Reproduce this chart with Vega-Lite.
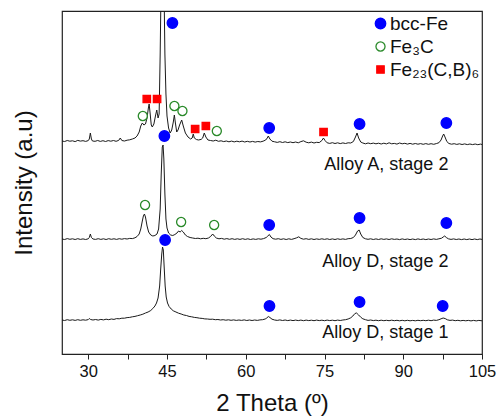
{
  "$schema": "https://vega.github.io/schema/vega-lite/v6.json",
  "width": 420,
  "height": 343,
  "autosize": {"type": "none"},
  "padding": {"left": 62, "top": 11, "right": 18, "bottom": 62},
  "config": {
    "view": {"stroke": "#222", "strokeWidth": 1.2},
    "font": "Liberation Sans",
    "axis": {"grid": false, "titleFontWeight": "normal", "titleFont": "Liberation Sans", "labelFont": "Liberation Sans", "titleColor": "#111", "labelColor": "#111"},
    "legend": {"orient": "none", "legendX": 309, "legendY": 3, "labelFontSize": 19, "labelFont": "Liberation Sans", "labelColor": "#111", "rowPadding": 3, "labelOffset": 0, "symbolStrokeWidth": 1.3, "padding": 0, "labelLimit": 300}
  },
  "datasets": {
    "A": [
      {"x":25,"y":213},{"x":25.5,"y":212.5},{"x":26,"y":213.5},{"x":26.5,"y":212.8},{"x":27,"y":213.2},{"x":27.5,"y":212.4},{"x":28,"y":213.6},{"x":28.5,"y":212.9},{"x":29,"y":213.3},{"x":29.5,"y":212.6},{"x":30,"y":213.4},{"x":30.2,"y":215},{"x":30.4,"y":221},{"x":30.6,"y":215},{"x":30.8,"y":213},{"x":31.3,"y":212.7},{"x":31.8,"y":213.5},{"x":32.3,"y":212.6},{"x":32.8,"y":213.3},{"x":33.3,"y":212.5},{"x":33.8,"y":213.4},{"x":34.3,"y":212.8},{"x":34.8,"y":213.5},{"x":35.3,"y":212.7},{"x":35.8,"y":213.6},{"x":36.1,"y":216},{"x":36.4,"y":213.5},{"x":36.9,"y":213},{"x":37.4,"y":213.8},{"x":37.9,"y":214.2},{"x":38.4,"y":215},{"x":38.9,"y":216},{"x":39.3,"y":218},{"x":39.7,"y":222},{"x":40.0,"y":228},{"x":40.3,"y":231},{"x":40.6,"y":229},{"x":40.9,"y":230},{"x":41.2,"y":236},{"x":41.45,"y":246},{"x":41.6,"y":250},{"x":41.8,"y":240},{"x":42.0,"y":229},{"x":42.2,"y":227},{"x":42.5,"y":230},{"x":42.8,"y":238},{"x":43.05,"y":244},{"x":43.3,"y":236},{"x":43.5,"y":240},{"x":43.7,"y":300},{"x":43.85,"y":360},{"x":44.2,"y":400},{"x":44.45,"y":360},{"x":44.6,"y":300},{"x":44.8,"y":260},{"x":45.0,"y":238},{"x":45.3,"y":226},{"x":45.6,"y":221},{"x":45.9,"y":224},{"x":46.2,"y":232},{"x":46.4,"y":239},{"x":46.6,"y":231},{"x":46.85,"y":222},{"x":47.1,"y":224},{"x":47.4,"y":229},{"x":47.8,"y":234},{"x":48.1,"y":228},{"x":48.5,"y":221},{"x":49.0,"y":217},{"x":49.5,"y":215},{"x":49.8,"y":216},{"x":50.0,"y":220},{"x":50.2,"y":216},{"x":50.6,"y":214.5},{"x":51.0,"y":214},{"x":51.5,"y":214.6},{"x":51.8,"y":216},{"x":52.1,"y":221},{"x":52.4,"y":217},{"x":52.8,"y":214},{"x":53.3,"y":213.5},{"x":53.8,"y":213},{"x":54.3,"y":213.8},{"x":54.8,"y":212.7},{"x":55.3,"y":213.2},{"x":55.8,"y":212.4},{"x":56.3,"y":213},{"x":56.8,"y":212.2},{"x":57.3,"y":212.9},{"x":57.8,"y":212.1},{"x":58.3,"y":212.8},{"x":58.8,"y":212.2},{"x":59.3,"y":212.9},{"x":59.8,"y":212},{"x":60.3,"y":212.7},{"x":60.8,"y":212},{"x":61.3,"y":212.6},{"x":61.8,"y":211.9},{"x":62.3,"y":212.5},{"x":62.8,"y":212.1},{"x":63.3,"y":212.8},{"x":63.8,"y":214},{"x":64.1,"y":216},{"x":64.3,"y":218},{"x":64.6,"y":215},{"x":65.0,"y":212.8},{"x":65.5,"y":212.2},{"x":66.0,"y":211.6},{"x":66.5,"y":212.3},{"x":67.0,"y":211.5},{"x":67.5,"y":212.2},{"x":68.0,"y":211.4},{"x":68.5,"y":212},{"x":69.0,"y":211.3},{"x":69.5,"y":212},{"x":70.0,"y":211.2},{"x":70.5,"y":212.4},{"x":71.0,"y":213.2},{"x":71.5,"y":211.8},{"x":72.0,"y":211.2},{"x":72.5,"y":211.9},{"x":73.0,"y":211},{"x":73.5,"y":211.7},{"x":74.0,"y":211.4},{"x":74.5,"y":213.5},{"x":74.8,"y":216},{"x":75.1,"y":213.5},{"x":75.5,"y":211.2},{"x":76.0,"y":210.6},{"x":76.5,"y":211.3},{"x":77.0,"y":210.5},{"x":77.5,"y":211.2},{"x":78.0,"y":210.4},{"x":78.5,"y":211.1},{"x":79.0,"y":210.5},{"x":79.5,"y":211.2},{"x":80.0,"y":211},{"x":80.5,"y":212.5},{"x":80.9,"y":217},{"x":81.2,"y":221},{"x":81.5,"y":216},{"x":81.9,"y":212},{"x":82.3,"y":211},{"x":82.8,"y":210.2},{"x":83.3,"y":211},{"x":83.8,"y":210.3},{"x":84.3,"y":210.9},{"x":84.8,"y":210.2},{"x":85.3,"y":210.8},{"x":85.8,"y":210},{"x":86.3,"y":210.8},{"x":86.8,"y":210.1},{"x":87.3,"y":211.2},{"x":87.8,"y":210.2},{"x":88.3,"y":210.6},{"x":88.8,"y":209.9},{"x":89.3,"y":211},{"x":89.8,"y":210.2},{"x":90.3,"y":210.7},{"x":90.8,"y":209.9},{"x":91.3,"y":210.6},{"x":91.8,"y":209.8},{"x":92.3,"y":210.5},{"x":92.8,"y":209.8},{"x":93.3,"y":210.4},{"x":93.8,"y":209.7},{"x":94.3,"y":210.4},{"x":94.8,"y":209.7},{"x":95.3,"y":210.3},{"x":95.8,"y":209.7},{"x":96.3,"y":210.4},{"x":96.8,"y":211.3},{"x":97.2,"y":214},{"x":97.5,"y":218},{"x":97.7,"y":220},{"x":97.95,"y":217},{"x":98.3,"y":212.5},{"x":98.7,"y":210.5},{"x":99.2,"y":209.8},{"x":99.7,"y":210.3},{"x":100.2,"y":209.6},{"x":100.7,"y":210.2},{"x":101.2,"y":209.5},{"x":101.7,"y":210.1},{"x":102.2,"y":209.4},{"x":102.7,"y":210},{"x":103.2,"y":209.4},{"x":103.7,"y":210},{"x":104.2,"y":209.3},{"x":104.7,"y":209.9},{"x":105,"y":209.5}
    ],
    "D2": [
      {"x":25,"y":115},{"x":25.5,"y":114.5},{"x":26,"y":115.4},{"x":26.5,"y":114.7},{"x":27,"y":115.2},{"x":27.5,"y":114.5},{"x":28,"y":115.3},{"x":28.5,"y":114.6},{"x":29,"y":115.1},{"x":29.5,"y":114.5},{"x":30,"y":115.2},{"x":30.2,"y":116.5},{"x":30.4,"y":120},{"x":30.6,"y":116.5},{"x":30.9,"y":115},{"x":31.4,"y":114.6},{"x":31.9,"y":115.3},{"x":32.4,"y":114.6},{"x":32.9,"y":115.2},{"x":33.4,"y":114.5},{"x":33.9,"y":115.3},{"x":34.4,"y":114.7},{"x":34.9,"y":115.2},{"x":35.4,"y":114.6},{"x":35.9,"y":115.3},{"x":36.4,"y":114.8},{"x":36.9,"y":115.4},{"x":37.4,"y":115},{"x":37.9,"y":115.6},{"x":38.4,"y":115.4},{"x":38.9,"y":116.2},{"x":39.3,"y":117.5},{"x":39.7,"y":120},{"x":40.0,"y":125},{"x":40.3,"y":133},{"x":40.5,"y":138},{"x":40.7,"y":140},{"x":40.9,"y":137},{"x":41.2,"y":128},{"x":41.5,"y":122},{"x":41.9,"y":119},{"x":42.3,"y":118},{"x":42.7,"y":118.5},{"x":43.1,"y":120},{"x":43.4,"y":125},{"x":43.7,"y":145},{"x":43.9,"y":180},{"x":44.1,"y":207},{"x":44.25,"y":209},{"x":44.4,"y":195},{"x":44.6,"y":160},{"x":44.8,"y":135},{"x":45.0,"y":126},{"x":45.3,"y":121},{"x":45.7,"y":119},{"x":46.1,"y":118.5},{"x":46.5,"y":119.5},{"x":46.9,"y":121},{"x":47.2,"y":123},{"x":47.5,"y":122},{"x":47.8,"y":123.5},{"x":48.1,"y":122},{"x":48.5,"y":119},{"x":48.9,"y":117.5},{"x":49.4,"y":116.5},{"x":49.9,"y":116},{"x":50.4,"y":115.5},{"x":50.9,"y":115.8},{"x":51.4,"y":115.2},{"x":51.9,"y":115.7},{"x":52.4,"y":115.3},{"x":52.9,"y":116},{"x":53.3,"y":117.5},{"x":53.7,"y":120},{"x":54.0,"y":118},{"x":54.4,"y":116},{"x":54.9,"y":115.2},{"x":55.4,"y":115.6},{"x":55.9,"y":114.8},{"x":56.4,"y":115.4},{"x":56.9,"y":114.7},{"x":57.4,"y":115.3},{"x":57.9,"y":114.6},{"x":58.4,"y":115.2},{"x":58.9,"y":114.6},{"x":59.4,"y":115.3},{"x":59.9,"y":114.6},{"x":60.4,"y":115.2},{"x":60.9,"y":114.5},{"x":61.4,"y":115.1},{"x":61.9,"y":114.6},{"x":62.4,"y":115.2},{"x":62.9,"y":114.8},{"x":63.4,"y":115.4},{"x":63.9,"y":116.5},{"x":64.2,"y":118},{"x":64.5,"y":119.5},{"x":64.8,"y":117},{"x":65.2,"y":115.3},{"x":65.7,"y":114.8},{"x":66.2,"y":115.3},{"x":66.7,"y":114.6},{"x":67.2,"y":115.2},{"x":67.7,"y":114.5},{"x":68.2,"y":115.2},{"x":68.7,"y":114.6},{"x":69.2,"y":115.3},{"x":69.7,"y":116.2},{"x":70.1,"y":117.2},{"x":70.5,"y":115.6},{"x":71.0,"y":114.8},{"x":71.5,"y":115.3},{"x":72.0,"y":114.6},{"x":72.5,"y":115.2},{"x":73.0,"y":114.5},{"x":73.5,"y":115.1},{"x":74.0,"y":114.6},{"x":74.5,"y":115.2},{"x":75.0,"y":114.6},{"x":75.5,"y":115.2},{"x":76.0,"y":114.5},{"x":76.5,"y":115.1},{"x":77.0,"y":114.5},{"x":77.5,"y":115.2},{"x":78.0,"y":114.6},{"x":78.5,"y":115.1},{"x":79.0,"y":114.6},{"x":79.5,"y":115.3},{"x":80.0,"y":115.5},{"x":80.5,"y":116.5},{"x":80.9,"y":119},{"x":81.3,"y":123},{"x":81.6,"y":124},{"x":81.9,"y":120},{"x":82.3,"y":116.5},{"x":82.8,"y":115.2},{"x":83.3,"y":114.7},{"x":83.8,"y":115.2},{"x":84.3,"y":114.5},{"x":84.8,"y":115.1},{"x":85.3,"y":114.5},{"x":85.8,"y":115.2},{"x":86.3,"y":114.6},{"x":86.8,"y":115.1},{"x":87.3,"y":114.5},{"x":87.8,"y":115.2},{"x":88.3,"y":114.6},{"x":88.8,"y":115},{"x":89.3,"y":114.4},{"x":89.8,"y":115.1},{"x":90.3,"y":114.5},{"x":90.8,"y":115},{"x":91.3,"y":114.4},{"x":91.8,"y":115},{"x":92.3,"y":114.4},{"x":92.8,"y":115.1},{"x":93.3,"y":114.5},{"x":93.8,"y":115},{"x":94.3,"y":114.4},{"x":94.8,"y":115},{"x":95.3,"y":114.5},{"x":95.8,"y":115.1},{"x":96.3,"y":114.6},{"x":96.8,"y":115.2},{"x":97.3,"y":115.8},{"x":97.6,"y":117},{"x":97.9,"y":118},{"x":98.2,"y":116.5},{"x":98.6,"y":115.2},{"x":99.1,"y":114.6},{"x":99.6,"y":115.1},{"x":100.1,"y":114.5},{"x":100.6,"y":115},{"x":101.1,"y":114.4},{"x":101.6,"y":115},{"x":102.1,"y":114.4},{"x":102.6,"y":115},{"x":103.1,"y":114.4},{"x":103.6,"y":115},{"x":104.1,"y":114.4},{"x":104.6,"y":115},{"x":105,"y":114.6}
    ],
    "D1": [
      {"x":25,"y":34},{"x":25.5,"y":33.5},{"x":26,"y":34.3},{"x":26.5,"y":33.7},{"x":27,"y":34.2},{"x":27.5,"y":33.6},{"x":28,"y":34.3},{"x":28.5,"y":33.7},{"x":29,"y":34.2},{"x":29.5,"y":33.8},{"x":30,"y":34.4},{"x":30.2,"y":35.5},{"x":30.45,"y":34.5},{"x":30.9,"y":34},{"x":31.4,"y":34.5},{"x":31.9,"y":33.9},{"x":32.4,"y":34.6},{"x":32.9,"y":34.1},{"x":33.4,"y":34.8},{"x":33.9,"y":34.3},{"x":34.4,"y":35},{"x":34.9,"y":34.6},{"x":35.4,"y":35.4},{"x":35.9,"y":35.2},{"x":36.4,"y":35.8},{"x":36.9,"y":35.8},{"x":37.4,"y":36.4},{"x":37.9,"y":36.6},{"x":38.4,"y":37.2},{"x":38.9,"y":37.6},{"x":39.4,"y":38.3},{"x":39.9,"y":39},{"x":40.4,"y":39.8},{"x":40.9,"y":41},{"x":41.4,"y":42},{"x":41.9,"y":43.5},{"x":42.3,"y":45.5},{"x":42.7,"y":48},{"x":43.0,"y":51},{"x":43.3,"y":56},{"x":43.6,"y":68},{"x":43.8,"y":85},{"x":44.0,"y":100},{"x":44.15,"y":107},{"x":44.3,"y":104},{"x":44.45,"y":88},{"x":44.65,"y":68},{"x":44.85,"y":57},{"x":45.1,"y":51},{"x":45.4,"y":47.5},{"x":45.8,"y":45},{"x":46.2,"y":43.2},{"x":46.7,"y":42},{"x":47.2,"y":40.8},{"x":47.7,"y":40},{"x":48.2,"y":39},{"x":48.7,"y":38.5},{"x":49.2,"y":37.6},{"x":49.7,"y":37.2},{"x":50.2,"y":36.6},{"x":50.7,"y":36.3},{"x":51.2,"y":35.8},{"x":51.7,"y":35.6},{"x":52.2,"y":35.1},{"x":52.7,"y":35},{"x":53.2,"y":34.7},{"x":53.7,"y":34.8},{"x":54.2,"y":34.3},{"x":54.7,"y":34.5},{"x":55.2,"y":34},{"x":55.7,"y":34.3},{"x":56.2,"y":33.8},{"x":56.7,"y":34.2},{"x":57.2,"y":33.7},{"x":57.7,"y":34.1},{"x":58.2,"y":33.6},{"x":58.7,"y":34},{"x":59.2,"y":33.6},{"x":59.7,"y":34.1},{"x":60.2,"y":33.5},{"x":60.7,"y":34},{"x":61.2,"y":33.5},{"x":61.7,"y":34},{"x":62.2,"y":33.6},{"x":62.7,"y":34.1},{"x":63.2,"y":34.3},{"x":63.7,"y":35},{"x":64.0,"y":36},{"x":64.3,"y":37.5},{"x":64.6,"y":36.5},{"x":65.0,"y":34.8},{"x":65.5,"y":34},{"x":66.0,"y":33.6},{"x":66.5,"y":34.1},{"x":67.0,"y":33.5},{"x":67.5,"y":34},{"x":68.0,"y":33.4},{"x":68.5,"y":33.9},{"x":69.0,"y":33.4},{"x":69.5,"y":33.9},{"x":70.0,"y":33.4},{"x":70.5,"y":33.9},{"x":71.0,"y":33.3},{"x":71.5,"y":33.9},{"x":72.0,"y":33.4},{"x":72.5,"y":33.8},{"x":73.0,"y":33.3},{"x":73.5,"y":33.9},{"x":74.0,"y":33.4},{"x":74.5,"y":33.8},{"x":75.0,"y":33.3},{"x":75.5,"y":33.9},{"x":76.0,"y":33.4},{"x":76.5,"y":33.8},{"x":77.0,"y":33.3},{"x":77.5,"y":33.9},{"x":78.0,"y":33.5},{"x":78.5,"y":34},{"x":79.0,"y":34.3},{"x":79.5,"y":35},{"x":80.0,"y":36.2},{"x":80.4,"y":38},{"x":80.8,"y":40.5},{"x":81.1,"y":41},{"x":81.5,"y":39},{"x":81.9,"y":36.8},{"x":82.3,"y":35.2},{"x":82.8,"y":34.3},{"x":83.3,"y":33.6},{"x":83.8,"y":34},{"x":84.3,"y":33.4},{"x":84.8,"y":33.8},{"x":85.3,"y":33.3},{"x":85.8,"y":33.8},{"x":86.3,"y":33.3},{"x":86.8,"y":33.7},{"x":87.3,"y":33.3},{"x":87.8,"y":33.8},{"x":88.3,"y":33.3},{"x":88.8,"y":33.7},{"x":89.3,"y":33.2},{"x":89.8,"y":33.7},{"x":90.3,"y":33.2},{"x":90.8,"y":33.7},{"x":91.3,"y":33.2},{"x":91.8,"y":33.6},{"x":92.3,"y":33.2},{"x":92.8,"y":33.7},{"x":93.3,"y":33.3},{"x":93.8,"y":33.7},{"x":94.3,"y":33.3},{"x":94.8,"y":33.8},{"x":95.3,"y":33.3},{"x":95.8,"y":33.9},{"x":96.3,"y":33.6},{"x":96.8,"y":34.3},{"x":97.2,"y":35.2},{"x":97.6,"y":36},{"x":98.0,"y":35.4},{"x":98.4,"y":34.2},{"x":98.9,"y":33.6},{"x":99.4,"y":33.9},{"x":99.9,"y":33.3},{"x":100.4,"y":33.7},{"x":100.9,"y":33.2},{"x":101.4,"y":33.6},{"x":101.9,"y":33.2},{"x":102.4,"y":33.6},{"x":102.9,"y":33.1},{"x":103.4,"y":33.6},{"x":103.9,"y":33.1},{"x":104.4,"y":33.6},{"x":105,"y":33.2}
    ],
    "markers": [
      {"x":46.03,"y":331,"phase":"bcc-Fe"},
      {"x":41.15,"y":255,"phase":"Fe₂₃(C,B)₆"},
      {"x":43.11,"y":255,"phase":"Fe₂₃(C,B)₆"},
      {"x":40.39,"y":238,"phase":"Fe₃C"},
      {"x":46.41,"y":248,"phase":"Fe₃C"},
      {"x":47.94,"y":243,"phase":"Fe₃C"},
      {"x":50.36,"y":225,"phase":"Fe₂₃(C,B)₆"},
      {"x":52.4,"y":228,"phase":"Fe₂₃(C,B)₆"},
      {"x":54.49,"y":223,"phase":"Fe₃C"},
      {"x":64.47,"y":226,"phase":"bcc-Fe"},
      {"x":74.82,"y":222,"phase":"Fe₂₃(C,B)₆"},
      {"x":81.68,"y":230,"phase":"bcc-Fe"},
      {"x":98.21,"y":231,"phase":"bcc-Fe"},
      {"x":44.5,"y":218,"phase":"bcc-Fe"},
      {"x":40.82,"y":149,"phase":"Fe₃C"},
      {"x":47.69,"y":132,"phase":"Fe₃C"},
      {"x":53.98,"y":129,"phase":"Fe₃C"},
      {"x":64.47,"y":129,"phase":"bcc-Fe"},
      {"x":81.68,"y":136,"phase":"bcc-Fe"},
      {"x":98.21,"y":131,"phase":"bcc-Fe"},
      {"x":44.64,"y":114,"phase":"bcc-Fe"},
      {"x":64.52,"y":48,"phase":"bcc-Fe"},
      {"x":81.68,"y":52,"phase":"bcc-Fe"},
      {"x":97.51,"y":48,"phase":"bcc-Fe"}
    ],
    "labels": [
      {"x":98.6,"y":189,"label":"Alloy A, stage 2"},
      {"x":98.6,"y":92,"label":"Alloy D, stage 2"},
      {"x":98.6,"y":21,"label":"Alloy D, stage 1"}
    ]
  },
  "encoding": {
    "x": {
      "field": "x", "type": "quantitative",
      "scale": {"domain": [25, 105], "nice": false, "zero": false},
      "axis": {
        "title": "2 Theta (º)", "titleFontSize": 24, "titlePadding": 12,
        "values": [30, 37.5, 45, 52.5, 60, 67.5, 75, 82.5, 90, 97.5, 105],
        "labelExpr": "datum.value % 15 === 0 ? datum.label : ''",
        "labelFontSize": 16.5, "labelPadding": 4, "labelFlush": false, "labelOverlap": false,
        "tickSize": 5, "tickColor": "#222", "domain": false
      }
    },
    "y": {
      "field": "y", "type": "quantitative",
      "scale": {"domain": [0, 343], "nice": false, "zero": false},
      "axis": {"title": "Intensity (a.u)", "titleFontSize": 24, "titlePadding": 26, "labels": false, "ticks": false, "domain": false}
    }
  },
  "layer": [
    {"data": {"name": "A"}, "mark": {"type": "line", "color": "#1a1a1a", "strokeWidth": 1, "clip": true}},
    {"data": {"name": "D2"}, "mark": {"type": "line", "color": "#1a1a1a", "strokeWidth": 1, "clip": true}},
    {"data": {"name": "D1"}, "mark": {"type": "line", "color": "#1a1a1a", "strokeWidth": 1, "clip": true}},
    {
      "data": {"name": "markers"},
      "mark": {"type": "point", "filled": true, "opacity": 1, "strokeWidth": 1.3},
      "encoding": {
        "shape": {"field": "phase", "type": "nominal", "scale": {"domain": ["bcc-Fe", "Fe₃C", "Fe₂₃(C,B)₆"], "range": ["circle", "circle", "square"]}, "legend": {"title": null, "labelFontSize": 19, "labelOffset": 0, "rowPadding": 3, "labelLimit": 300}},
        "fill": {"field": "phase", "type": "nominal", "scale": {"domain": ["bcc-Fe", "Fe₃C", "Fe₂₃(C,B)₆"], "range": ["#0000ff", "#ffffff", "#ff0000"]}, "legend": {"title": null, "labelFontSize": 19, "labelOffset": 0, "rowPadding": 3, "labelLimit": 300}},
        "stroke": {"field": "phase", "type": "nominal", "scale": {"domain": ["bcc-Fe", "Fe₃C", "Fe₂₃(C,B)₆"], "range": ["#0000ff", "#2a8a2a", "#ff0000"]}, "legend": {"title": null, "labelFontSize": 19, "labelOffset": 0, "rowPadding": 3, "labelLimit": 300}},
        "size": {"field": "phase", "type": "nominal", "scale": {"domain": ["bcc-Fe", "Fe₃C", "Fe₂₃(C,B)₆"], "range": [110, 55, 80]}, "legend": {"title": null, "labelFontSize": 19, "labelOffset": 0, "rowPadding": 3, "labelLimit": 300}}
      }
    },
    {
      "data": {"name": "labels"},
      "mark": {"type": "text", "align": "right", "baseline": "middle", "fontSize": 18, "font": "Liberation Sans", "color": "#111"},
      "encoding": {"text": {"field": "label"}}
    }
  ]
}
